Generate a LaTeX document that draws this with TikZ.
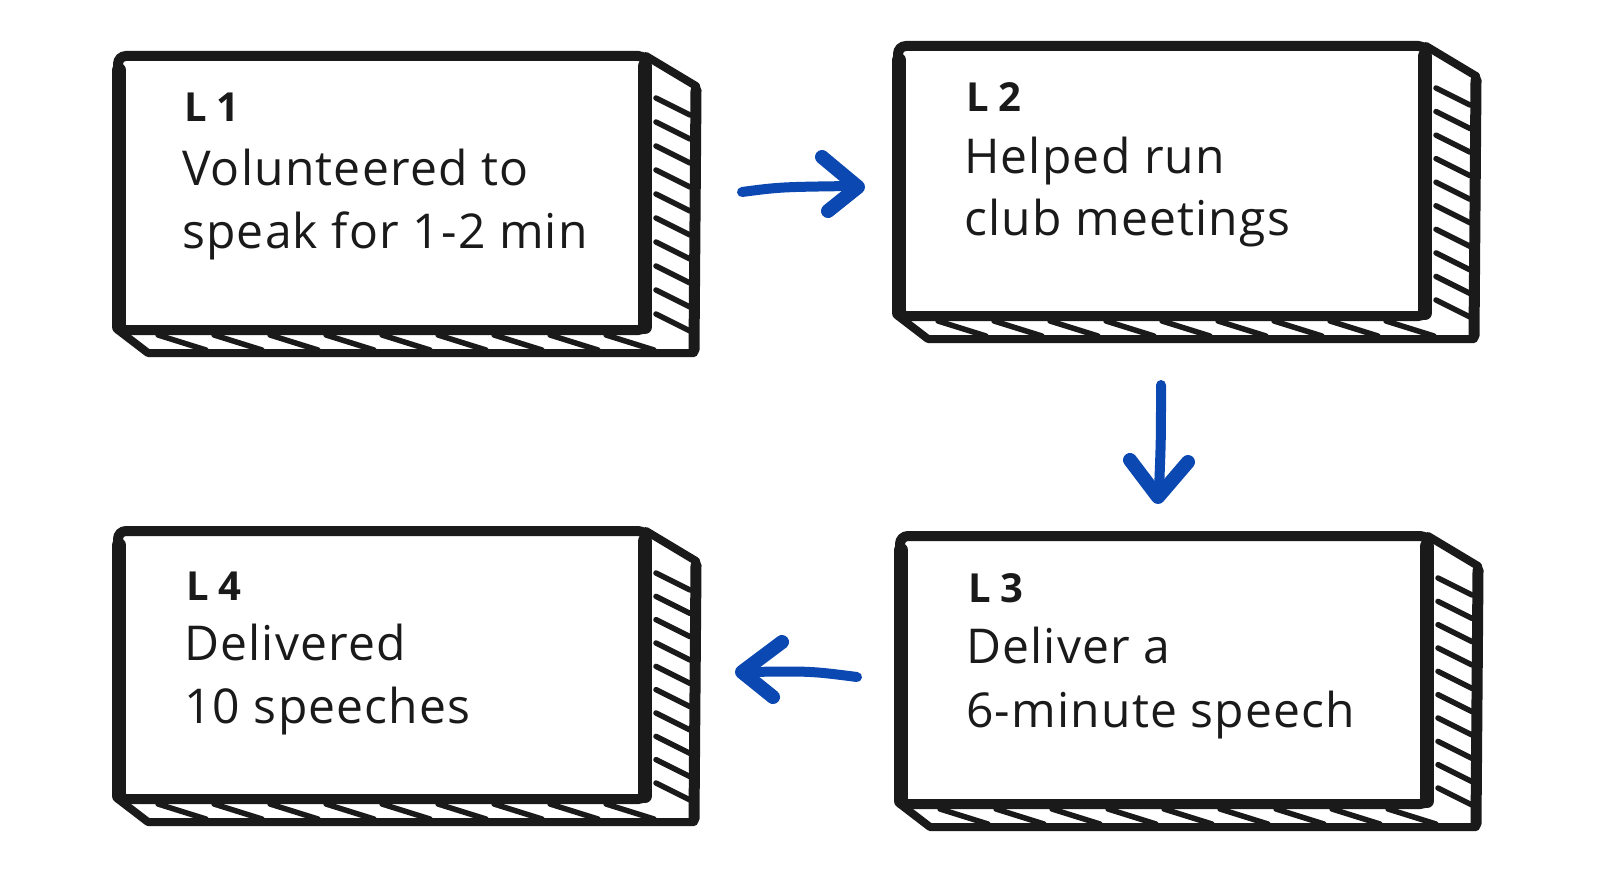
\documentclass[tikz,border=0pt]{standalone}
\usepackage{fontspec}
\setmainfont{Open Sans}[LetterSpace=2.5]
\newfontfamily\labfont{Open Sans}[LetterSpace=0]
\usetikzlibrary{calc}
\definecolor{ink}{RGB}{26,26,26}
\definecolor{arrowblue}{RGB}{12,72,178}
\begin{document}
\begin{tikzpicture}[x=1pt,y=-1pt,
  front/.style={draw=ink, line width=10pt, rounded corners=8pt, fill=white, inner sep=0pt, outer sep=0pt},
  thickside/.style={draw=ink, line width=14pt, line cap=round},
  edge/.style={draw=ink, line width=8pt, line join=round, line cap=round},
  hatch/.style={draw=ink, line width=5.5pt, line cap=round},
  lab/.style={inner sep=0pt, font=\labfont\fontsize{40}{44}\selectfont\bfseries, text=ink},
  txt/.style={inner sep=0pt, font=\fontsize{48}{63}\selectfont, text=ink},
  shaft/.style={draw=arrowblue, line width=10pt, line cap=round},
  ahead/.style={draw=arrowblue, line width=14pt, line cap=round, line join=round}]
\useasboundingbox (0,0) rectangle (1600,880);

\newcommand\card[5]{%
  \node[front, minimum width={#4-#2}, minimum height={#5-#3}, anchor=north west] (#1) at (#2,#3) {};
  \foreach \k in {0,...,9}{%
    \pgfmathsetmacro\yy{42+\k*(#5-#3-58)/9}
    \draw[hatch] ($(#1.north east)+(10,\yy)$) -- ++(34,17);
  }
  \foreach \k in {0,...,8}{%
    \pgfmathsetmacro\xx{40+\k*(#4-#2-80)/8}
    \draw[hatch] ($(#1.south west)+(\xx,5)$) -- ++(48,15);
  }
  \draw[edge] (#1.north east) -- ++(50,30) -- ($(#1.south east)+(48,23)$) -- ($(#1.south west)+(30,23)$) -- (#1.south west);
  \draw[draw=ink, line width=11pt, line cap=round] ($(#1.north east)+(50,34)$) -- ($(#1.south east)+(48,20)$);
  \draw[thickside] ($(#1.north west)+(1,14)$) -- ($(#1.south west)+(1,-3)$);
  \draw[thickside] ($(#1.north east)+(-1,10)$) -- ($(#1.south east)+(-1,-3)$);
}

\card{b1}{118}{56}{646}{330}
\card{b2}{898}{46}{1426}{316}
\card{b3}{900}{536}{1428}{804}
\card{b4}{118}{531}{646}{799}

% texts
\node[lab, anchor=base west] (l1) at (184,122) {L\hspace{10pt}1};
\node[txt, anchor=base west] (t1a) at (182,185) {Volunteered to};
\node[txt, anchor=base west] (t1b) at (182,248) {speak for 1-2 min};

\node[lab, anchor=base west] (l2) at (966,112) {L\hspace{10pt}2};
\node[txt, anchor=base west] (t2a) at (964,173) {Helped run};
\node[txt, anchor=base west] (t2b) at (964,235) {club meetings};

\node[lab, anchor=base west] (l3) at (968,602) {L\hspace{10pt}3};
\node[txt, anchor=base west] (t3a) at (966,663) {Deliver a};
\node[txt, anchor=base west] (t3b) at (966,727) {6-minute speech};

\node[lab, anchor=base west] (l4) at (186,600) {L\hspace{10pt}4};
\node[txt, anchor=base west] (t4a) at (184,660) {Delivered};
\node[txt, anchor=base west] (t4b) at (184,723) {10 speeches};

% arrows
\coordinate (a1s) at (742,192);
\coordinate (a1e) at (858,187);
\draw[shaft] (a1s) .. controls (780,187) .. (852,186);
\draw[ahead] ($(a1e)+(-36,-30)$) -- (a1e) -- ++(-30,24);

\coordinate (a2s) at (1161,385);
\coordinate (a2e) at (1158,497);
\draw[shaft] (a2s) .. controls (1161,440) .. (1159,490);
\draw[ahead] ($(a2e)+(-28,-37)$) -- (a2e) -- ++(30,-35);

\coordinate (a3s) at (857,677);
\coordinate (a3e) at (742,672);
\draw[shaft] (a3s) .. controls (810,671) .. (748,672);
\draw[ahead] ($(a3e)+(40,-30)$) -- (a3e) -- ++(31,25);
\end{tikzpicture}
\end{document}
